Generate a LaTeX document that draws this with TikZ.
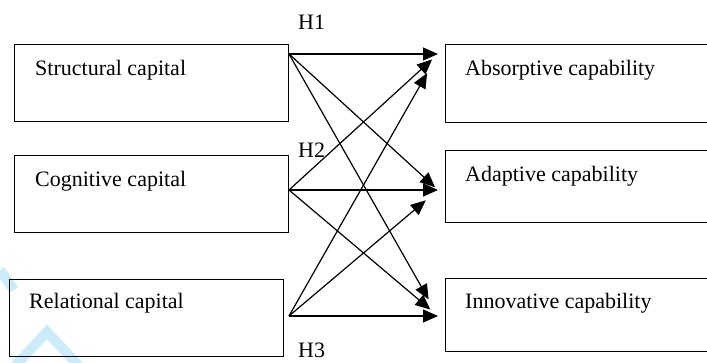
\documentclass[tikz,border=0pt]{standalone}
\usepackage{fontspec}
\setmainfont{Liberation Serif}
\usetikzlibrary{arrows.meta}
\definecolor{markblue}{RGB}{205,236,250}
\tikzset{capbox/.style = {draw, line width=1.3pt, rectangle, anchor=north west,
                          minimum width=#1, minimum height=77pt, inner sep=0pt},
         capbox/.default=274pt,
         captext/.style = {anchor=base west, inner sep=0pt, font=\fontsize{22}{26}\selectfont},
         hyp/.style = {-{Triangle[length=15pt,width=13pt]}, line width=1.2pt}
        }

\begin{document}
\begin{tikzpicture}[x=1pt, y=-1pt]
  \useasboundingbox (0,0) rectangle (707,363);
  % faint mark at the bottom left
  \draw[markblue, line width=10pt] (0,270) -- (14,290);
  \draw[markblue, line width=10pt] (15,366) -- (47,332) -- (79,366);
  % boxes
  \node[capbox] (sc) at (14,44) {};
  \node[capbox] (cc) at (14,155) {};
  \node[capbox] (rc) at (9,279) {};
  \node[capbox=265pt, minimum height=78pt] (ab) at (445,44) {};
  \node[capbox=265pt, minimum height=72pt] (ad) at (445,150) {};
  \node[capbox=265pt, minimum height=73pt] (in) at (445,278) {};
  \node[captext] (sct) at (35,76) {Structural capital};
  \node[captext] (cct) at (35,187) {Cognitive capital};
  \node[captext] (rct) at (29,309) {Relational capital};
  \node[captext] (abt) at (465,76) {Absorptive capability};
  \node[captext] (adt) at (465,182) {Adaptive capability};
  \node[captext] (int) at (465,309) {Innovative capability};
  % hypotheses
  \node[captext] (h1) at (298,30) {H1};
  \node[captext] (h2) at (298,158) {H2};
  \node[captext] (h3) at (298,357) {H3};
  \coordinate (s1) at (289,54);
  \coordinate (s2) at (289,190);
  \coordinate (s3) at (289,316);
  \coordinate (t1) at (438,54);
  \coordinate (t2) at (438,190);
  \coordinate (t3) at (438,316);
  \foreach \s/\t/\d in {s1/t1/0, s1/t2/4, s1/t3/19, s2/t1/8, s2/t2/0, s2/t3/10,
                        s3/t1/22, s3/t2/16, s3/t3/0}
      {\draw[hyp, shorten >=\d pt] (\s) -- (\t);};
\end{tikzpicture}
\end{document}
